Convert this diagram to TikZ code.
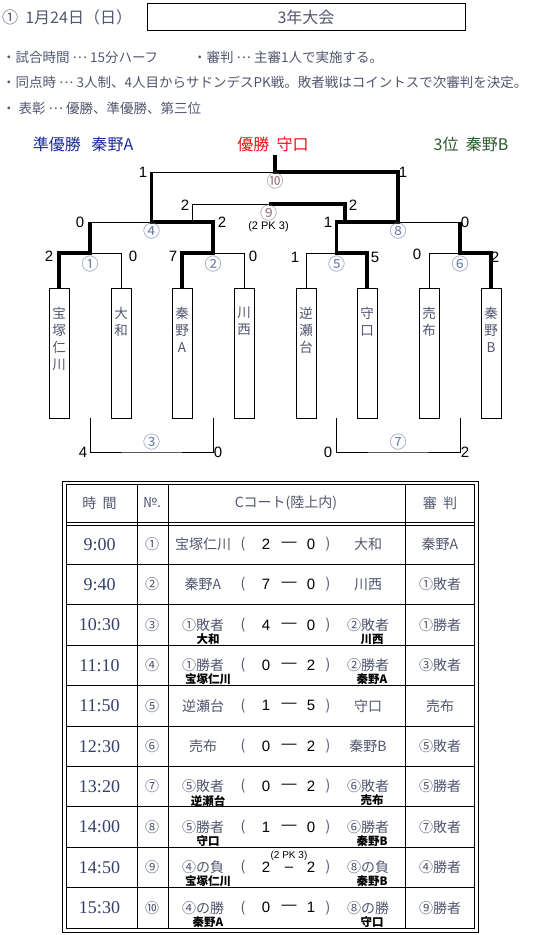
\documentclass[tikz,border=0pt]{standalone}
\usepackage{fontspec}
\setmainfont{Noto Sans CJK JP}
\newfontfamily\numserif{Liberation Serif}
\newfontfamily\numsans{Liberation Sans}
\usetikzlibrary{positioning,calc}
\definecolor{ink}{HTML}{50566E}
\definecolor{timeink}{HTML}{34406A}
\definecolor{circ}{HTML}{6E80A8}
\definecolor{circr}{HTML}{9A7A84}
\definecolor{navyb}{HTML}{1A2A9C}
\definecolor{redw}{HTML}{F01010}
\definecolor{greenb}{HTML}{2A5A2A}
\newcommand\middots{\raisebox{0.3em}{…}}
\tikzset{
  hdr/.style={font=\fontsize{16}{18}\selectfont, inner sep=0pt},
  notetxt/.style={font=\fontsize{13.5}{15}\selectfont, text=ink, anchor=west, inner sep=0pt},
  banner/.style={font=\fontsize{16}{18}\selectfont, inner sep=0pt},
  teambox/.style={draw, line width=0.8pt, minimum width=20pt, minimum height=130pt, inner sep=0pt},
  teamname/.style={font=\fontsize{13.5}{17}\selectfont, text=ink, align=center, anchor=north, inner sep=0pt},
  bline/.style={line width=0.8pt},
  winline/.style={line width=3.6pt},
  score/.style={font=\numsans\fontsize{15}{17}\selectfont, inner sep=0pt},
  mno/.style={font=\fontsize{17}{17}\selectfont, text=circ, inner sep=0pt},
  pknote/.style={font=\numsans\fontsize{11}{12}\selectfont, inner sep=0pt},
  tabline/.style={line width=0.8pt},
  celltxt/.style={font=\fontsize{14}{16}\selectfont, text=ink, inner sep=0pt},
  timetxt/.style={font=\numserif\fontsize{18}{20}\selectfont, text=timeink, inner sep=0pt},
  cellnum/.style={font=\numsans\fontsize{15}{17}\selectfont, inner sep=0pt},
  subtxt/.style={font=\bfseries\fontsize{11.5}{13}\selectfont, inner sep=0pt}
}

\begin{document}
\begin{tikzpicture}[x=1pt,y=-1pt]
  \useasboundingbox (0,0) rectangle (543,935);
  % heading and notes
  \node[hdr, anchor=west, text=ink] (date) at (2,17) {①\ \ 1月24日（日）};
  \node[hdr, draw, line width=0.8pt, minimum width=318pt, minimum height=27pt, text=ink] (ttl) at (306,17) {3年大会};
  \node[notetxt] (n1) at (2,57) {・試合時間 \middots\ 15分ハーフ};
  \node[notetxt] (n1b) at (193,57) {・審判 \middots\ 主審1人で実施する。};
  \node[notetxt] (n2) at (2,82) {・同点時 \middots\ 3人制、4人目からサドンデスPK戦。敗者戦はコイントスで次審判を決定。};
  \node[notetxt] (n3) at (2,108) {・ 表彰 \middots\ 優勝、準優勝、第三位};
  \node[banner, text=navyb] (second) at (83,144) {準優勝\ \ \ 秦野A};
  \node[banner, text=redw] (first) at (273,144) {優勝\ \ 守口};
  \node[banner, text=greenb] (third) at (471,144) {3位\ \ 秦野B};

  % teams
  \foreach \i/\x/\n in {1/59/{宝\\塚\\仁\\川},2/121/{大\\和},3/182/{秦\\野\\A},4/244/{川\\西},
      5/306/{逆\\瀬\\台},6/367/{守\\口},7/429/{売\\布},8/491/{秦\\野\\B}}{
    \node[teambox] (tb\i) at (\x,353) {};
    \node[teamname] (tn\i) at ($(tb\i.north)+(0,19)$) {\n};
  }

  % junctions
  \coordinate (m1) at (90,253);
  \coordinate (m2) at (213,253);
  \coordinate (m5) at (336.5,253);
  \coordinate (m6) at (460,253);
  \coordinate (m4) at (151.5,222);
  \coordinate (m8) at (398,222);
  \coordinate (m10) at (275,172);
  \coordinate (champ) at (275,155);
  \coordinate (p9a) at (192,222);
  \coordinate (p9b) at (345,222);
  \coordinate (m9) at (268.5,204);
  \coordinate (m3) at (151.5,452);
  \coordinate (m7) at (398,452);

  % bracket
  \draw[bline] (tb1.north) |- (tb2.north |- m1) -- (tb2.north);
  \draw[bline] (tb3.north) |- (tb4.north |- m2) -- (tb4.north);
  \draw[bline] (tb5.north) |- (tb6.north |- m5) -- (tb6.north);
  \draw[bline] (tb7.north) |- (tb8.north |- m6) -- (tb8.north);
  \draw[bline] (m1) |- (m2 |- m4) -- (m2);
  \draw[bline] (m5) |- (m6 |- m8) -- (m6);
  \draw[bline] (m4) |- (m8 |- m10) -- (m8);
  \draw[bline] (p9a) |- (p9b |- m9) -- (p9b);
  \draw[bline] ($(tb1.south)!0.5!(tb2.south)$) |- (m3) -| ($(tb3.south)!0.5!(tb4.south)$);
  \draw[bline] ($(tb5.south)!0.5!(tb6.south)$) |- (m7) -| ($(tb7.south)!0.5!(tb8.south)$);

  % winners
  \draw[winline] (tb1.north) |- (m1) -- (m1 |- m4);
  \draw[winline] (tb3.north) |- (m2) -- (m2 |- m4) -- (m4) -- (m4 |- m10);
  \draw[winline] (tb6.north) |- (m5) -- (m5 |- m8) -- (m8) -- (m8 |- m10) -- (m10) -- (champ);
  \draw[winline] (tb8.north) |- (m6) -- (m6 |- m8);
  \draw[winline] (p9b) -- (p9b |- m9) -- (m9);

  % match numbers
  \foreach \k/\c in {1/①,2/②,5/⑤,6/⑥}
    \node[mno] (c\k) at ($(m\k)+(0,11)$) {\c};
  \foreach \k/\c in {4/④,8/⑧,3/③,7/⑦}
    \node[mno] (c\k) at ($(m\k)+(0,{\k==3||\k==7 ? -10 : 9})$) {\c};
  \node[mno, text=circr] (c9) at ($(m9)+(0,9)$) {⑨};
  \node[mno, text=circr] (c10) at ($(m10)+(0,9)$) {⑩};
  \node[pknote] (pk) at ($(m9)+(0,23)$) {(2 PK 3)};

  % scores
  \foreach \n/\x/\y/\s in {a1/49/256/2, b1/133/256/0, a2/173/256/7, b2/253/256/0,
      a5/295/257/1, b5/375/257/5, a6/417/254/0, b6/495/257/2,
      a4/80/222/0, b4/222/222/2, a8/328/222/1, b8/465/222/0,
      a9/185/205/2, b9/353/205/2, a10/143/172/1, b10/403/172/1,
      a3/83/452/4, b3/218/452/0, a7/328/452/0, b7/465/452/2}
    \node[score] (s\n) at (\x,\y) {\s};

  % schedule table
  \draw[tabline] (62,481) rectangle (478,932);
  \draw[tabline] (66,484) rectangle (474,928);
  \foreach \x in {137,168,405} \draw[tabline] (\x,484) -- (\x,928);
  \draw[tabline] (66,522) -- (474,522);
  \draw[tabline] (66,525) -- (474,525);
  \foreach \k in {1,...,9} \draw[tabline] (66,{524+40.4*\k}) -- (474,{524+40.4*\k});

  \node[celltxt] (h1) at (99.5,503) {時\ \ 間};
  \node[celltxt] (h2) at (152,503) {№.};
  \node[celltxt] (h3) at (286,503) {Cコート(陸上内)};
  \node[celltxt] (h4) at (440,503) {審\ \ 判};

  \foreach \r/\t/\no/\lt/\sa/\sb/\rt/\rf in {
      1/9:00/①/宝塚仁川/2/0/大和/秦野A,
      2/9:40/②/秦野A/7/0/川西/①敗者,
      3/10:30/③/①敗者/4/0/②敗者/①勝者,
      4/11:10/④/①勝者/0/2/②勝者/③敗者,
      5/11:50/⑤/逆瀬台/1/5/守口/売布,
      6/12:30/⑥/売布/0/2/秦野B/⑤敗者,
      7/13:20/⑦/⑤敗者/0/2/⑥敗者/⑤勝者,
      8/14:00/⑧/⑤勝者/1/0/⑥勝者/⑦敗者,
      9/14:50/⑨/④の負/2/2/⑧の負/④勝者,
      10/15:30/⑩/④の勝/0/1/⑧の勝/⑨勝者}{
    \pgfmathsetmacro\yc{524+40.4*(\r-0.5)}
    \node[timetxt] (tm\r) at (99.5,\yc) {\t};
    \node[celltxt] (no\r) at (152,\yc) {\no};
    \node[celltxt] (lt\r) at (203,\yc) {\lt};
    \node[celltxt] (pl\r) at (243,\yc) {(};
    \node[cellnum] (sa\r) at (266,\yc) {\sa};
    \node[cellnum] (sb\r) at (311,\yc) {\sb};
    \node[celltxt] (pr\r) at (328,\yc) {)};
    \node[celltxt] (rt\r) at (368,\yc) {\rt};
    \node[celltxt] (rf\r) at (440,\yc) {\rf};
    \ifnum\r=9
      \node[pknote, font=\numsans\fontsize{10}{11}\selectfont] (pk\r) at (289,{\yc-11}) {(2 PK 3)};
      \node[cellnum] (ds\r) at (289,{\yc+2}) {–};
    \else
      \node[cellnum] (ds\r) at (289,\yc) {—};
    \fi
  }
  \foreach \r/\a/\b in {3/大和/川西, 4/宝塚仁川/秦野A, 7/逆瀬台/売布,
      8/守口/秦野B, 9/宝塚仁川/秦野B, 10/秦野A/守口}{
    \pgfmathsetmacro\yc{524+40.4*(\r-0.5)}
    \node[subtxt] (la\r) at (208,{\yc+14}) {\a};
    \node[subtxt] (ra\r) at (372,{\yc+14}) {\b};
  }
\end{tikzpicture}
\end{document}
